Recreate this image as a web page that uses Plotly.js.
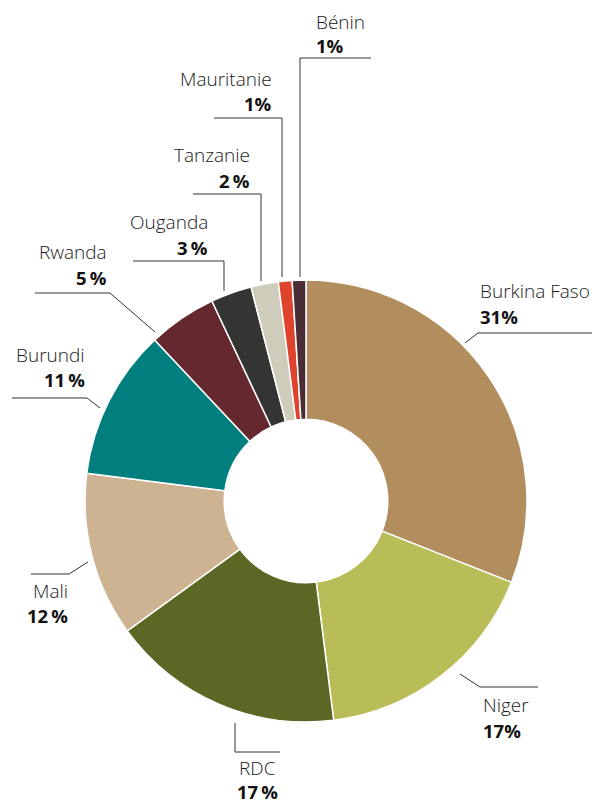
<!DOCTYPE html>
<html>
<head>
<meta charset="utf-8">
<script src="https://cdn.plot.ly/plotly-3.0.1.min.js"></script>
<style>html,body{margin:0;padding:0;background:#fff;}#chart{width:595px;height:803px;}</style>
</head>
<body>
<div id="chart"></div>
<script>
// ---- Data ----
const countries = ["Burkina Faso", "Niger", "RDC", "Mali", "Burundi", "Rwanda", "Ouganda", "Tanzanie", "Mauritanie", "Bénin"];
const shares = [31, 17, 17, 12, 11, 5, 3, 2, 1, 1];
const pctSep = ["", "", "\u2009", "\u2009", "\u2009", "\u2009", "\u2009", "\u2009", "", ""];
const colors = ["#b28d5d", "#b9bd57", "#5d6725", "#cdb391", "#007f7e", "#65282e", "#343433", "#d0ccbc", "#e0432b", "#4b2e35"];

// ---- Label layout (pixels): text anchor and leader path ----
const W = 595, H = 803;
const labelLayout = [
  {x: 479, yName: 291, yPct: 316, anchor: "left",   path: [[465,343],[478,333],[592,333]]},
  {x: 482, yName: 705, yPct: 730, anchor: "left",   path: [[460,674],[480,687],[538,687]]},
  {x: 257, yName: 768, yPct: 791, anchor: "center", path: [[235,723],[235,752],[280,752]]},
  {x: 69,  yName: 591, yPct: 615, anchor: "right",  path: [[88,562],[69,574],[31,574]]},
  {x: 86,  yName: 355, yPct: 379, anchor: "right",  path: [[100,408],[87,398],[12,398]]},
  {x: 108, yName: 252, yPct: 277, anchor: "right",  path: [[155,332],[110,293],[35,293]]},
  {x: 209, yName: 222, yPct: 247, anchor: "right",  path: [[224,291],[224,261],[133,261]]},
  {x: 251, yName: 155, yPct: 180, anchor: "right",  path: [[261,281],[261,194],[193,194]]},
  {x: 273, yName: 79,  yPct: 104, anchor: "right",  path: [[282,277],[282,118],[214,118]]},
  {x: 315, yName: 22,  yPct: 45,  anchor: "left",   path: [[300,277],[300,58],[371,58]]}
];

const px = x => x / W;
const py = y => 1 - y / H;

const FONT = "'Open Sans', 'Noto Sans', sans-serif";
const annotations = [];
const shapes = [];
countries.forEach((c, i) => {
  const L = labelLayout[i];
  annotations.push({
    xref: "paper", yref: "paper", x: px(L.x), y: py(L.yName),
    xanchor: L.anchor, yanchor: "middle", showarrow: false, align: L.anchor, borderpad: 0,
    text: c, font: {family: FONT, size: 19, color: "#1a1a1a", weight: 300}
  });
  annotations.push({
    xref: "paper", yref: "paper", x: px(L.x), y: py(L.yPct),
    xanchor: L.anchor, yanchor: "middle", showarrow: false, align: L.anchor, borderpad: 0,
    text: "<b>" + shares[i] + pctSep[i] + "%</b>", font: {family: FONT, size: 18.5, color: "#111", weight: 700}
  });
  const d = L.path.map((p, k) => (k === 0 ? "M" : "L") + px(p[0]).toFixed(5) + "," + py(p[1]).toFixed(5)).join(" ");
  shapes.push({type: "path", xref: "paper", yref: "paper", path: d, line: {color: "#333", width: 1}});
});

const trace = {
  type: "pie",
  labels: countries,
  values: shares,
  sort: false,
  direction: "clockwise",
  rotation: 0,
  hole: 0.37,
  textinfo: "none",
  hoverinfo: "skip",
  marker: {colors: colors, line: {color: "#ffffff", width: 1.5}},
  domain: {x: [px(85), px(527)], y: [py(722), py(280)]}
};

Plotly.newPlot("chart", [trace], {
  width: W, height: H,
  margin: {l: 0, r: 0, t: 0, b: 0},
  showlegend: false,
  paper_bgcolor: "#fff",
  annotations: annotations,
  shapes: shapes
}, {staticPlot: true});
</script>
</body>
</html>
